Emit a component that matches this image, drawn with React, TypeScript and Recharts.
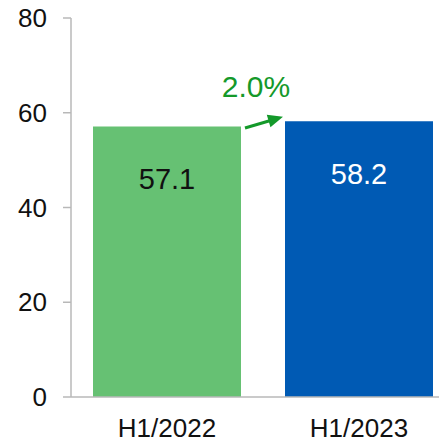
import { BarChart, Bar, XAxis, YAxis, Cell, LabelList, ReferenceLine } from "recharts";

const categories = ["H1/2022", "H1/2023"];
const values = [57.1, 58.2];
const yTicks = [0, 20, 40, 60, 80];
const growthLabel = "2.0%";

const data = categories.map((period, i) => ({ period, value: values[i] }));

const barColors = ["#66c173", "#005ab4"];
const labelColors = ["#111111", "#ffffff"];
const arrowColor = "#14992a";
const axisColor = "#b8b8b8";
const font = "'Liberation Sans', Arial, sans-serif";

// value label inside the top of each bar
function ValueLabel(props: any) {
  const { x, y, width, value, index } = props;
  return (
    <text
      x={x + width / 2}
      y={y + 42}
      dy="0.71em"
      textAnchor="middle"
      fontSize={29}
      fontFamily={font}
      fill={labelColors[index]}
    >
      {value}
    </text>
  );
}

// growth arrow between the bar tops, with the percentage above it
function GrowthArrow(props: any) {
  const { x1, y1, x2, y2 } = props;
  const sx = x1 + 78;
  const sy = y1 + 1.5;
  const ex = x2 - 76;
  const ey = y2 - 4.5;
  const dx = ex - sx;
  const dy = ey - sy;
  const len = Math.sqrt(dx * dx + dy * dy);
  const ux = dx / len;
  const uy = dy / len;
  const headLen = 15;
  const headHalf = 6.5;
  const bx = ex - ux * headLen;
  const by = ey - uy * headLen;
  const head = [
    `${ex},${ey}`,
    `${bx - uy * headHalf},${by + ux * headHalf}`,
    `${bx + uy * headHalf},${by - ux * headHalf}`,
  ].join(" ");
  return (
    <g>
      <line x1={sx} y1={sy} x2={bx + ux * 2} y2={by + uy * 2} stroke={arrowColor} strokeWidth={3} />
      <polygon points={head} fill={arrowColor} />
      <text
        x={(x1 + x2) / 2 - 7}
        y={y2 - 24}
        textAnchor="middle"
        fontSize={30}
        fontFamily={font}
        fill={arrowColor}
      >
        {growthLabel}
      </text>
    </g>
  );
}

export default function App() {
  return (
    <div style={{ position: "absolute", left: 0, top: 0, width: 439, height: 443, overflow: "hidden", background: "#fff" }}>
      <BarChart
        width={470}
        height={443}
        data={data}
        margin={{ top: 18, right: 15, left: 0, bottom: 0 }}
        barCategoryGap={22}
      >
        <XAxis
          dataKey="period"
          height={46}
          tickLine={false}
          tickSize={0}
          tickMargin={22}
          axisLine={{ stroke: axisColor, strokeWidth: 1.5 }}
          tick={{ fontSize: 26, fontFamily: font, fill: "#111" }}
          interval={0}
        />
        <YAxis
          domain={[0, 80]}
          ticks={yTicks}
          width={71}
          tickSize={8}
          tickMargin={16}
          axisLine={{ stroke: axisColor, strokeWidth: 1.5 }}
          tickLine={{ stroke: axisColor, strokeWidth: 1.5 }}
          tick={{ fontSize: 26, fontFamily: font, fill: "#111" }}
        />
        <Bar dataKey="value" isAnimationActive={false}>
          {data.map((d, i) => (
            <Cell key={d.period} fill={barColors[i]} />
          ))}
          <LabelList dataKey="value" content={ValueLabel} />
        </Bar>
        <ReferenceLine
          segment={[
            { x: categories[0], y: values[0] },
            { x: categories[1], y: values[1] },
          ]}
          shape={GrowthArrow}
        />
      </BarChart>
    </div>
  );
}
